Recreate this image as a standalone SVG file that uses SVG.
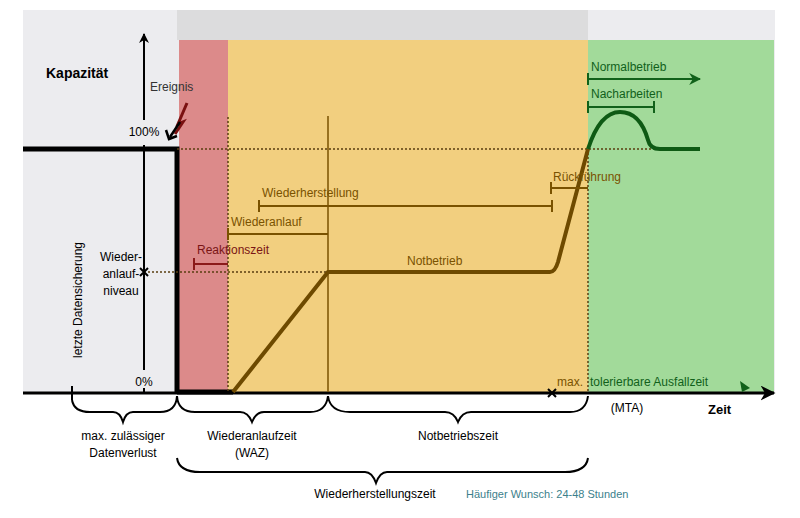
<svg xmlns="http://www.w3.org/2000/svg" width="800" height="518" viewBox="0 0 800 518">
<style>
text{font-family:"Liberation Sans",Arial,sans-serif;font-size:12px}
.c{text-anchor:middle}
.br{fill:#7a5200}.brs{stroke:#7a5200;fill:none;stroke-width:2}
.gr{fill:#11611a}.grs{stroke:#11611a;fill:none}
.dot{stroke:#5a3e10;stroke-width:1.5;stroke-dasharray:2 2;fill:none}
.brace{fill:none;stroke:#000;stroke-width:2}
</style>
<defs>
<marker id="ab" viewBox="0 0 10 10" refX="9" refY="5" markerWidth="5" markerHeight="5" orient="auto"><path d="M0,0 L10,5 L0,10 L3,5z" fill="#000"/></marker>
<marker id="ag" viewBox="0 0 10 10" refX="9" refY="5" markerWidth="6" markerHeight="6" orient="auto"><path d="M0,0 L10,5 L0,10 L3,5z" fill="#11611a"/></marker>
</defs>
<rect width="800" height="518" fill="#fff"/>
<g id="background">
<rect x="23" y="10" width="752" height="382" fill="#ececef"/>
<rect x="177" y="10" width="411" height="30" fill="#dcdcdd"/>
<rect x="179" y="40" width="49" height="352" fill="#dc8a8a"/>
<rect x="228" y="40" width="360" height="352" fill="#f2cf7f"/>
<rect x="588" y="40" width="186" height="352" fill="#a2da9a"/>
</g>
<g id="connectors">
<line x1="144" y1="392" x2="144" y2="388" stroke="#000" stroke-width="2"/>
<line x1="144" y1="370" x2="144" y2="145" stroke="#000" stroke-width="2"/>
<line x1="144" y1="120" x2="144" y2="34" stroke="#000" stroke-width="2" marker-end="url(#ab)"/>
<line x1="23" y1="393" x2="774" y2="393" stroke="#000" stroke-width="3" marker-end="url(#ab)"/>
<line x1="72" y1="386" x2="72" y2="400" stroke="#000" stroke-width="2"/>
<path d="M23,149 H177 V392" fill="none" stroke="#000" stroke-width="5"/>
<line x1="177" y1="392" x2="233" y2="392" stroke="#000" stroke-width="5"/>
<line x1="177" y1="149" x2="655" y2="149" class="dot"/>
<line x1="144" y1="272" x2="328" y2="272" class="dot"/>
<line x1="228" y1="117" x2="228" y2="392" class="dot"/>
<line x1="588" y1="149" x2="588" y2="392" class="dot"/>
<line x1="328" y1="116" x2="328" y2="392" stroke="#7a5200" stroke-width="1.5"/>
<path d="M233,392 L328,272 H550 Q555,272 558,262 L588,149" fill="none" stroke="#6e4a00" stroke-width="4"/>
<path d="M588,149 Q600,112 620,112 Q640,112 648,140 Q650,149 660,149 H700" fill="none" stroke="#0e5a14" stroke-width="4"/>
<path d="M259,200 V212 M259,206 H552 M552,200 V212" class="brs"/>
<path d="M228,228 V240 M228,234 H328" class="brs"/>
<path d="M194,258 V270 M194,264 H228" fill="none" stroke="#8b1a1a" stroke-width="2"/>
<path d="M551,182 V194 M551,188 H588" class="brs"/>
<path d="M588,73 V85 M588,79 H700" class="grs" stroke-width="2" marker-end="url(#ag)"/>
<path d="M588,101 V113 M588,107 H654 M654,101 V113" class="grs" stroke-width="2"/>
<path d="M140,268 L148,276 M148,268 L140,276" stroke="#000" stroke-width="2"/>
<path d="M548,389 L556,397 M556,389 L548,397" stroke="#000" stroke-width="2"/>
<path d="M187,103 L178,124 L183,122 L175,134" fill="none" stroke="#7a1010" stroke-width="3"/>
<path d="M180,122 L170,137" stroke="#000" stroke-width="2.5"/>
<path d="M166,130 L169,139 L177,136" fill="none" stroke="#000" stroke-width="2.5"/>
<path d="M740,381 L750,388 L742,392z" fill="#11611a"/>
<path class="brace" d="M72,400 Q74,412 90,412 H113 Q120,412 123,422 Q126,412 133,412 H160 Q176,412 177,396"/>
<path class="brace" d="M177,396 Q178,412 195,412 H240 Q248,412 252,422 Q256,412 264,412 H310 Q326,412 328,396"/>
<path class="brace" d="M328,396 Q330,412 350,412 H445 Q454,412 458,422 Q462,412 471,412 H570 Q586,412 588,396"/>
<path class="brace" d="M177,458 Q179,472 200,472 H365 Q372,472 376,483 Q380,472 387,472 H565 Q586,472 588,458"/>
</g>
<g id="labels">
<text x="46" y="78" style="font-weight:bold;font-size:14px">Kapazität</text>
<text x="150" y="91" fill="#333">Ereignis</text>
<text x="144" y="136" class="c">100%</text>
<text x="144" y="386" class="c">0%</text>
<text x="121" y="261" class="c">Wieder-</text>
<text x="121" y="278" class="c">anlauf-</text>
<text x="121" y="295" class="c">niveau</text>
<text transform="translate(82,300) rotate(-90)" class="c">letzte Datensicherung</text>
<text x="262" y="197" class="br">Wiederherstellung</text>
<text x="231" y="226" class="br">Wiederanlauf</text>
<text x="197" y="254" fill="#7a1515">Reaktionszeit</text>
<text x="553" y="181" class="br">Rückführung</text>
<text x="407" y="265" class="br">Notbetrieb</text>
<text x="591" y="71" class="gr">Normalbetrieb</text>
<text x="591" y="98" class="gr">Nacharbeiten</text>
<text x="557" y="386" class="br">max.</text>
<text x="590" y="386" class="gr">tolerierbare Ausfallzeit</text>
<text x="627" y="412" class="c">(MTA)</text>
<text x="708" y="414" style="font-weight:bold;font-size:13px">Zeit</text>
<text x="123" y="440" class="c">max. zulässiger</text>
<text x="123" y="457" class="c">Datenverlust</text>
<text x="252" y="440" class="c">Wiederanlaufzeit</text>
<text x="252" y="457" class="c">(WAZ)</text>
<text x="458" y="440" class="c">Notbetriebszeit</text>
<text x="375" y="498" class="c">Wiederherstellungszeit</text>
<text x="466" y="498" fill="#3c7f8c" style="font-size:11px">Häufiger Wunsch: 24-48 Stunden</text>
</g>
</svg>
